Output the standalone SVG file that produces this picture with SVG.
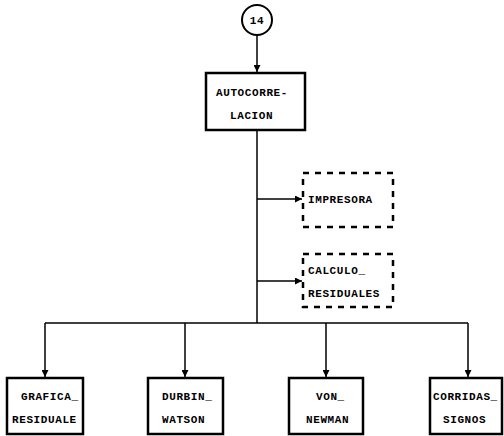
<svg xmlns="http://www.w3.org/2000/svg" width="504" height="436" viewBox="0 0 504 436">
<style>
text{font-family:"Liberation Mono","DejaVu Sans Mono",monospace;font-weight:bold;font-size:11px;fill:#000;letter-spacing:0.6px}
.box{fill:#fff;stroke:#000;stroke-width:2.5}
.dbox{fill:none;stroke:#000;stroke-width:2.5;stroke-dasharray:6 6}
.ln{fill:none;stroke:#000;stroke-width:1.5}
</style>
<defs>
<marker id="ah" viewBox="0 0 10 10" refX="10" refY="5" markerWidth="7" markerHeight="7" markerUnits="userSpaceOnUse" orient="auto">
<path d="M0,0 L10,5 L0,10 z" fill="#000"/>
</marker>
</defs>
<rect width="504" height="436" fill="#fff"/>
<g id="connectors">
<line class="ln" x1="257" y1="35" x2="257" y2="72" marker-end="url(#ah)"/>
<line class="ln" x1="257" y1="130" x2="257" y2="323"/>
<line class="ln" x1="257" y1="199" x2="302" y2="199" marker-end="url(#ah)"/>
<line class="ln" x1="257" y1="281" x2="302" y2="281" marker-end="url(#ah)"/>
<line class="ln" x1="45" y1="323" x2="468" y2="323"/>
<line class="ln" x1="45" y1="323" x2="45" y2="377" marker-end="url(#ah)"/>
<line class="ln" x1="185" y1="323" x2="185" y2="377" marker-end="url(#ah)"/>
<line class="ln" x1="326" y1="323" x2="326" y2="377" marker-end="url(#ah)"/>
<line class="ln" x1="468" y1="323" x2="468" y2="377" marker-end="url(#ah)"/>
</g>
<g id="n14">
<circle cx="257" cy="20" r="15" fill="#fff" stroke="#000" stroke-width="2"/>
<text x="257" y="24" text-anchor="middle">14</text>
</g>
<g id="autocorrelacion">
<rect class="box" x="206" y="73" width="99" height="57"/>
<text x="216" y="96">AUTOCORRE-</text>
<text x="230" y="119">LACION</text>
</g>
<g id="impresora">
<rect class="dbox" x="303" y="173" width="90" height="54"/>
<text x="308" y="203">IMPRESORA</text>
</g>
<g id="calculo_residuales">
<rect class="dbox" x="303" y="254" width="90" height="53"/>
<text x="308" y="274">CALCULO_</text>
<text x="308" y="297">RESIDUALES</text>
</g>
<g id="grafica_residuale">
<rect class="box" x="7" y="378" width="76" height="56"/>
<text x="21" y="400">GRAFICA_</text>
<text x="12" y="423">RESIDUALE</text>
</g>
<g id="durbin_watson">
<rect class="box" x="148" y="378" width="75" height="56"/>
<text x="162" y="400">DURBIN_</text>
<text x="162" y="423">WATSON</text>
</g>
<g id="von_newman">
<rect class="box" x="289" y="378" width="74" height="56"/>
<text x="316" y="400">VON_</text>
<text x="306" y="423">NEWMAN</text>
</g>
<g id="corridas_signos">
<rect class="box" x="430" y="378" width="72" height="56"/>
<text x="433" y="400">CORRIDAS_</text>
<text x="443" y="423">SIGNOS</text>
</g>
</svg>
